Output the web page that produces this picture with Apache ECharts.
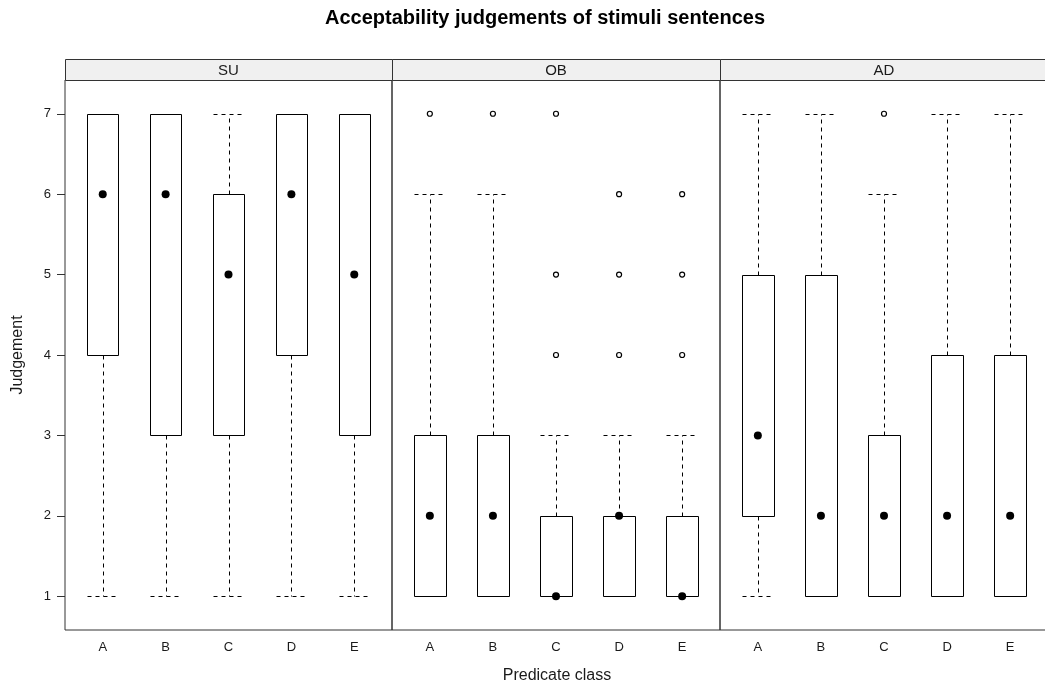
<!DOCTYPE html>
<html>
<head>
<meta charset="utf-8">
<script src="https://cdn.jsdelivr.net/npm/echarts@6/dist/echarts.min.js"></script>
<style>html,body{margin:0;padding:0;background:#fff}#chart{width:1045px;height:686px}</style>
</head>
<body>
<div id="chart"></div>
<script>
// ---- data ----
const categories = ['A', 'B', 'C', 'D', 'E'];
const panels = ['SU', 'OB', 'AD'];
const yTicks = [1, 2, 3, 4, 5, 6, 7];

const suLow  = [1, 1, 1, 1, 1];
const suQ1   = [4, 3, 3, 4, 3];
const suMed  = [6, 6, 5, 6, 5];
const suQ3   = [7, 7, 6, 7, 7];
const suHigh = [7, 7, 7, 7, 7];
const suOut  = [];

const obLow  = [1, 1, 1, 1, 1];
const obQ1   = [1, 1, 1, 1, 1];
const obMed  = [2, 2, 1, 2, 1];
const obQ3   = [3, 3, 2, 2, 2];
const obHigh = [6, 6, 3, 3, 3];
const obOut  = [['A', 7], ['B', 7], ['C', 4], ['C', 5], ['C', 7], ['D', 4], ['D', 5], ['D', 6], ['E', 4], ['E', 5], ['E', 6]];

const adLow  = [1, 1, 1, 1, 1];
const adQ1   = [2, 1, 1, 1, 1];
const adMed  = [3, 2, 2, 2, 2];
const adQ3   = [5, 5, 3, 4, 4];
const adHigh = [7, 7, 6, 7, 7];
const adOut  = [['C', 7]];

const panelData = [
  { low: suLow, q1: suQ1, med: suMed, q3: suQ3, high: suHigh, out: suOut },
  { low: obLow, q1: obQ1, med: obMed, q3: obQ3, high: obHigh, out: obOut },
  { low: adLow, q1: adQ1, med: adMed, q3: adQ3, high: adHigh, out: adOut }
];

// ---- layout ----
const gridLefts = [65, 392, 720];
const gridWidths = [327, 328, 328];
const gridTop = 80, gridBottomY = 630;
const stripTop = 59;
const ink = '#000';
const txt = '#1a1a1a';
const font = 'Liberation Sans, Arial, sans-serif';

const chart = echarts.init(document.getElementById('chart'), null, { renderer: 'canvas' });

const grids = [], xAxes = [], yAxes = [], series = [], graphics = [];
const catIndex = c => categories.indexOf(c) + 1;

panels.forEach((p, i) => {
  grids.push({ left: gridLefts[i], top: gridTop, width: gridWidths[i], height: gridBottomY - gridTop,
    show: true, borderColor: '#333', borderWidth: 1, backgroundColor: 'transparent',
    containLabel: false, outerBoundsMode: 'none' });
  xAxes.push({ type: 'value', gridIndex: i, min: 0.4, max: 5.6,
    axisLine: { show: false }, splitLine: { show: false }, axisTick: { show: false },
    axisLabel: { show: true, customValues: [1, 2, 3, 4, 5], formatter: v => categories[Math.round(v) - 1] || '',
      color: txt, fontSize: 13, fontFamily: font, margin: 11 } });
  yAxes.push({ type: 'value', gridIndex: i, min: 0.58, max: 7.42,
    axisLine: { show: false }, splitLine: { show: false },
    axisTick: { show: i === 0, customValues: yTicks, length: 8, lineStyle: { color: '#333' } },
    axisLabel: { show: i === 0, customValues: yTicks, color: txt, fontSize: 13, fontFamily: font, margin: 14 } });

  const d = panelData[i];
  const boxRows = categories.map((c, k) => [k + 1, d.low[k], d.q1[k], d.med[k], d.q3[k], d.high[k]]);
  series.push({
    type: 'custom', xAxisIndex: i, yAxisIndex: i, data: boxRows, z: 2, silent: true,
    renderItem: function (params, api) {
      const x = api.value(0);
      const lo = api.coord([x - 0.25, api.value(1)]);
      const q1 = api.coord([x - 0.25, api.value(2)]);
      const q3 = api.coord([x + 0.25, api.value(4)]);
      const hi = api.coord([x + 0.25, api.value(5)]);
      const cx = api.coord([x, 0])[0];
      const dash = { stroke: ink, lineWidth: 1, lineDash: [4, 4], fill: null };
      const children = [];
      const L = Math.round(q1[0]) + 0.5, R = Math.round(q3[0]) + 0.5, C = Math.round(cx) + 0.5;
      const yq1 = Math.round(q1[1]) + 0.5, yq3 = Math.round(q3[1]) + 0.5;
      const ylo = Math.round(lo[1]) + 0.5, yhi = Math.round(hi[1]) + 0.5;
      if (ylo !== yq1) {
        children.push({ type: 'line', shape: { x1: C, y1: yq1, x2: C, y2: ylo }, style: dash });
        children.push({ type: 'line', shape: { x1: L, y1: ylo, x2: R, y2: ylo }, style: dash });
      }
      if (yhi !== yq3) {
        children.push({ type: 'line', shape: { x1: C, y1: yq3, x2: C, y2: yhi }, style: dash });
        children.push({ type: 'line', shape: { x1: L, y1: yhi, x2: R, y2: yhi }, style: dash });
      }
      children.push({ type: 'rect', shape: { x: L, y: yq3, width: R - L, height: yq1 - yq3 },
        style: { stroke: ink, lineWidth: 1, fill: '#fff' } });
      return { type: 'group', children: children };
    }
  });
  series.push({
    type: 'scatter', xAxisIndex: i, yAxisIndex: i, z: 5, silent: true,
    symbol: 'circle', symbolSize: 8, itemStyle: { color: '#000', opacity: 1 },
    data: categories.map((c, k) => [k + 1, d.med[k]])
  });
  series.push({
    type: 'scatter', xAxisIndex: i, yAxisIndex: i, z: 5, silent: true,
    symbol: 'circle', symbolSize: 5, itemStyle: { color: '#fff', borderColor: '#000', borderWidth: 1.2, opacity: 1 },
    data: d.out.map(o => [catIndex(o[0]), o[1]])
  });

  // strip
  graphics.push({ type: 'rect', shape: { x: gridLefts[i] + 0.5, y: stripTop + 0.5, width: gridWidths[i], height: gridTop - stripTop },
    style: { fill: '#f0f0f0', stroke: '#333', lineWidth: 1 }, z: 1 });
  graphics.push({ type: 'text', x: gridLefts[i] + gridWidths[i] / 2, y: (stripTop + gridTop) / 2 + 1,
    style: { text: p, fill: txt, font: '15px ' + font, textAlign: 'center', textVerticalAlign: 'middle' }, z: 2 });
});

graphics.push({ type: 'text', x: 545, y: 18,
  style: { text: 'Acceptability judgements of stimuli sentences', fill: '#000', font: 'bold 20px ' + font,
    textAlign: 'center', textVerticalAlign: 'middle' } });
graphics.push({ type: 'text', x: 557, y: 676,
  style: { text: 'Predicate class', fill: txt, font: '16px ' + font, textAlign: 'center', textVerticalAlign: 'middle' } });
graphics.push({ type: 'text', x: 18, y: 355, rotation: Math.PI / 2,
  style: { text: 'Judgement', fill: txt, font: '16px ' + font, textAlign: 'center', textVerticalAlign: 'middle' } });

chart.setOption({
  animation: false,
  backgroundColor: '#fff',
  grid: grids, xAxis: xAxes, yAxis: yAxes, series: series,
  graphic: graphics
});
</script>
</body>
</html>
